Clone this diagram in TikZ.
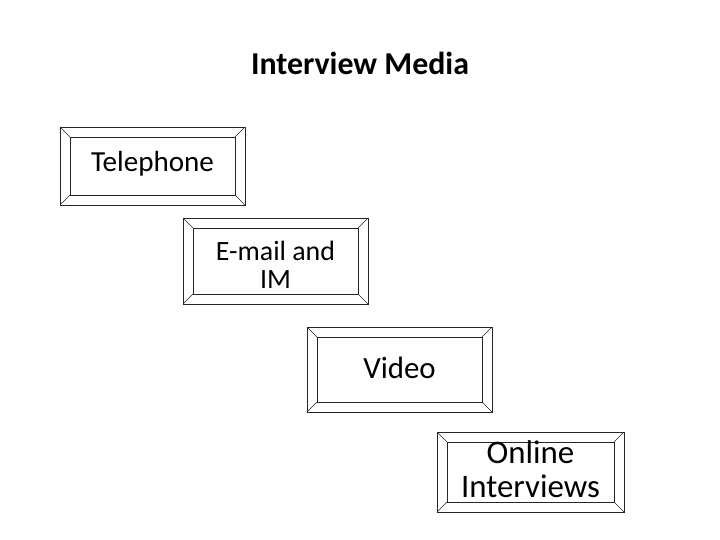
\documentclass[tikz,border=0pt]{standalone}
\usepackage{fontspec}
\setmainfont{Carlito}
\begin{document}
\begin{tikzpicture}[x=1bp,y=-1bp,
  bevel/.style={draw=black!85, line width=0.75pt, inner sep=0pt, align=center,
    path picture={
      \draw[black!85, line width=0.75pt]
        ([shift={(10bp,-10bp)}]path picture bounding box.north west) rectangle
        ([shift={(-10bp,10bp)}]path picture bounding box.south east);
      \draw[black!85, line width=0.6pt]
        (path picture bounding box.north west) -- ++(10bp,-10bp)
        (path picture bounding box.north east) -- ++(-10bp,-10bp)
        (path picture bounding box.south west) -- ++(10bp,10bp)
        (path picture bounding box.south east) -- ++(-10bp,10bp);
    }},
  titlestyle/.style={font={\fontsize{32}{36}\bfseries\selectfont}, inner sep=0pt}
]
\useasboundingbox (0,0) rectangle (720,540);
\node[titlestyle, anchor=base] (title) at (360,75) {Interview Media};
\node[bevel, minimum width=185bp, minimum height=78bp,
  font={\fontsize{29.2}{30}\selectfont}, text height=18bp, text depth=6bp] (tel) at (152.5,166) {Telephone};
\node[bevel, minimum width=185bp, minimum height=86bp,
  font={\fontsize{28}{28}\selectfont}, text height=54bp, text depth=0bp] (mail) at (275.5,261) {E-mail and\\IM};
\node[bevel, minimum width=185bp, minimum height=85bp,
  font={\fontsize{31}{32}\selectfont}, text height=17bp, text depth=0bp] (video) at (399.5,369.5) {Video};
\node[bevel, minimum width=187bp, minimum height=80bp,
  font={\fontsize{33}{34}\selectfont}, text height=50bp, text depth=0bp] (online) at (530.5,472) {Online\\Interviews};
\end{tikzpicture}
\end{document}
